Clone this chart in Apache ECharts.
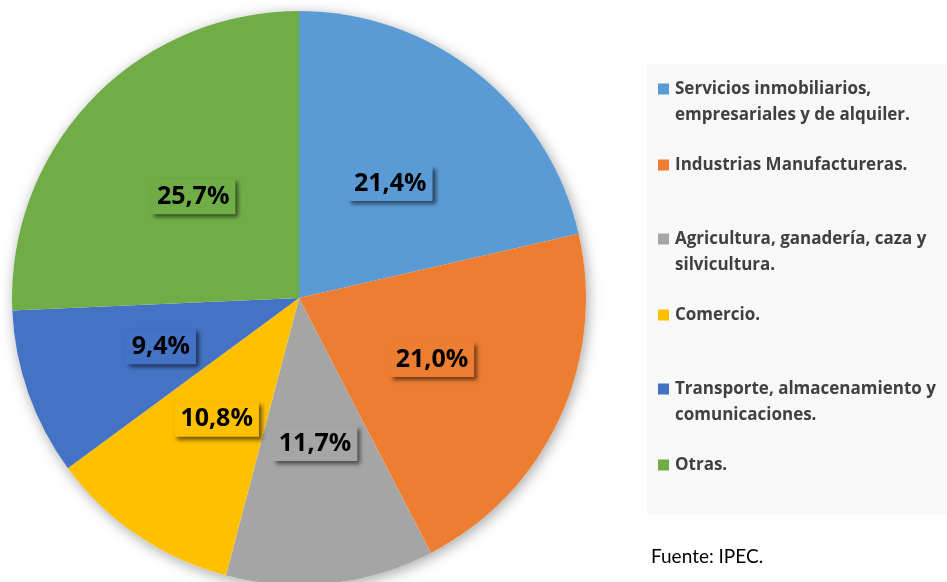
<!DOCTYPE html>
<html><head><meta charset="utf-8">
<script src="https://cdn.jsdelivr.net/npm/echarts@6/dist/echarts.min.js"></script>
<style>html,body{margin:0;padding:0;background:#fff}#c{width:947px;height:582px}</style>
</head><body><div id="c"></div>
<script>
var categories = [
  'Servicios inmobiliarios,\nempresariales y de alquiler.',
  'Industrias Manufactureras.',
  'Agricultura, ganadería, caza y\nsilvicultura.',
  'Comercio.',
  'Transporte, almacenamiento y\ncomunicaciones.',
  'Otras.'
];
var values = [21.4, 21.0, 11.7, 10.8, 9.4, 25.7];
var colors = ['#5B9BD5', '#ED7D31', '#A5A5A5', '#FFC000', '#4472C4', '#70AD47'];
var legendRows = [89, 165, 239, 315, 389, 465];
var sourceText = 'Fuente: IPEC.';

var BOLDFONT = '"Open Sans", "Noto Sans", sans-serif';
var REGFONT = 'Lato, "Open Sans", sans-serif';
var chart = echarts.init(document.getElementById('c'), null, {renderer: 'canvas'});

var graphics = [
  {type: 'rect', x: 647, y: 64, z: -10, silent: true, shape: {width: 300, height: 451}, style: {fill: '#f8f8f8'}},
  {type: 'text', x: 651, y: 557, silent: true, style: {text: sourceText, font: '19px ' + REGFONT, fill: '#000', verticalAlign: 'middle'}}
];
categories.forEach(function (name, i) {
  var cy = legendRows[i];
  graphics.push({type: 'rect', x: 658, y: cy - 5.5, silent: true, shape: {width: 11, height: 11}, style: {fill: colors[i]}});
  graphics.push({type: 'text', x: 675, y: cy - 13, silent: true,
    style: {text: name, fontFamily: BOLDFONT, fontWeight: 'bold', fontSize: 17, fill: '#404040', lineHeight: 26, verticalAlign: 'top'}});
});

var option = {
  backgroundColor: '#ffffff',
  animation: false,
  color: colors,
  graphic: graphics,
  series: [
    {
      type: 'pie',
      name: 'sombra',
      silent: true,
      z: 1,
      center: [299, 298],
      radius: 287,
      label: {show: false},
      labelLine: {show: false},
      itemStyle: {color: '#ffffff', shadowBlur: 14, shadowColor: 'rgba(0,0,0,0.35)', shadowOffsetX: 2, shadowOffsetY: 3},
      data: [{value: 1, name: ''}]
    },
    {
      type: 'pie',
      z: 2,
      center: [299, 298],
      radius: 287,
      startAngle: 90,
      clockwise: true,
      avoidLabelOverlap: false,
      labelLine: {show: false},
      label: {
        show: true,
        position: 'inside',
        formatter: function (p) { return p.value.toFixed(1).replace('.', ',') + '%'; },
        fontFamily: BOLDFONT,
        fontWeight: 'bold',
        fontSize: 25,
        lineHeight: 28,
        color: '#000',
        backgroundColor: 'inherit',
        padding: [4, 6, 3, 6],
        shadowColor: 'rgba(0,0,0,0.55)',
        shadowBlur: 4,
        shadowOffsetX: 3,
        shadowOffsetY: 3
      },
      emphasis: {disabled: true},
      data: categories.map(function (c, i) { return {name: c, value: values[i]}; })
    }
  ]
};
chart.setOption(option);
</script></body></html>
